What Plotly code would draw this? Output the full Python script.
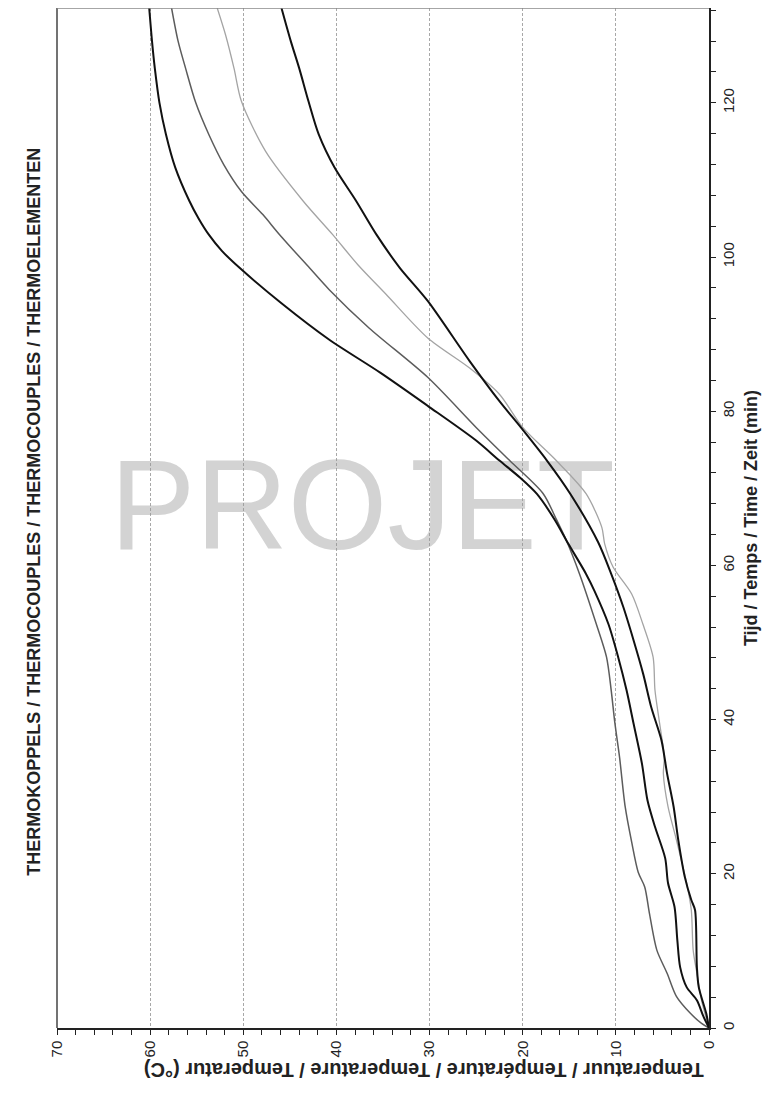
import plotly.graph_objects as go

# rotated scan: temperature runs right->left, time runs bottom->top
t_k1 = [0, 1.5, 3.6, 5.3, 7.9, 11.4, 15.7, 18.8, 22.0, 26.1, 29.5, 34.3, 39.5, 43.8, 48.1, 52.4,
        56.7, 58.9, 62.8, 66.0, 69.3, 71.4, 73.6, 76.2, 80.7, 85.0, 89.3, 94.0, 98.6, 100.8, 102.9,
        105.0, 107.3, 111.6, 115.9, 120.0, 124.5, 128.0, 132.3]
temp_k1 = [0, 0.6, 1.3, 2.4, 3.1, 3.4, 3.7, 4.4, 4.7, 5.8, 6.6, 7.2, 8.1, 8.85, 9.75, 10.8,
           12.3, 13.2, 15.1, 16.6, 18.5, 20.3, 22.5, 25.0, 30.2, 35.3, 40.8, 45.9, 50.4, 52.3, 53.7,
           54.8, 55.8, 57.3, 58.3, 59.0, 59.5, 59.8, 60.1]

t_g2 = [0, 0.6, 1.9, 4.1, 7.1, 10.1, 14.9, 18.3, 20.2, 24.1, 28.7, 35.1, 39.5, 43.8, 48.1, 52.4,
        58.9, 63.2, 66.0, 69.3, 73.6, 77.9, 84.4, 90.8, 95.8, 98.6, 102.9, 105.5, 108.5, 112.0,
        115.9, 120.0, 124.5, 128.0, 132.3]
temp_g2 = [0, 0.8, 2.0, 3.5, 4.5, 5.6, 6.4, 6.9, 7.6, 8.3, 9.0, 9.6, 10.1, 10.5, 11.0, 12.1,
           13.9, 15.3, 16.4, 17.8, 21.4, 25.0, 30.2, 36.5, 40.8, 42.9, 46.1, 47.9, 50.2, 52.1,
           53.7, 55.1, 56.2, 57.0, 57.7]

t_l3 = [0, 3.6, 7.1, 10.1, 15.3, 18.8, 24.4, 28.7, 33.0, 35.1, 39.5, 43.8, 48.1, 52.4, 56.3,
        59.8, 62.8, 64.9, 69.3, 73.6, 77.9, 82.2, 85.6, 89.5, 95.2, 99.0, 102.9, 107.3, 113.7,
        120.2, 124.5, 128.8, 132.3]
temp_l3 = [0, 0.8, 1.3, 1.7, 1.9, 2.4, 3.5, 4.4, 4.9, 4.8, 5.3, 5.8, 6.0, 7.1, 8.3,
           10.3, 11.2, 11.5, 13.2, 16.4, 20.0, 22.5, 25.7, 30.2, 34.7, 37.7, 40.4, 43.6, 47.6,
           50.2, 51.0, 51.9, 52.8]

t_k4 = [0, 1.9, 5.3, 7.9, 15.3, 16.6, 19.6, 24.4, 28.7, 33.0, 37.3, 41.6, 45.9, 50.3, 54.6,
        58.9, 63.0, 69.3, 73.6, 77.9, 81.3, 86.5, 94.3, 98.6, 102.9, 107.3, 111.6, 115.9,
        120.2, 124.5, 128.0, 132.3]
temp_k4 = [0, 0.3, 1.1, 1.3, 1.5, 1.9, 2.6, 3.3, 3.8, 4.5, 5.1, 6.2, 7.06, 8.1, 9.2,
           10.5, 11.9, 14.9, 17.4, 20.2, 22.5, 25.7, 30.2, 33.2, 35.7, 37.9, 40.2, 41.9,
           43.0, 44.0, 44.9, 45.9]

temp_ticks = [0, 10, 20, 30, 40, 50, 60, 70]
time_ticks = [0, 20, 40, 60, 80, 100, 120]

FONT = "Liberation Sans, Arial, sans-serif"

fig = go.Figure()

# watermark, drawn first so the curves sit on top of it
fig.add_trace(go.Scatter(
    x=[37.2], y=[66.3], mode="text", text=["PROJET"],
    textfont=dict(family=FONT, size=128, color="rgba(150,150,150,0.42)"),
    hoverinfo="skip", showlegend=False))

smooth = dict(shape="spline", smoothing=0.8)
fig.add_trace(go.Scatter(x=temp_l3, y=t_l3, mode="lines", line=dict(color="#a4a4a4", width=1.3, **smooth), showlegend=False))
fig.add_trace(go.Scatter(x=temp_g2, y=t_g2, mode="lines", line=dict(color="#5c5c5c", width=1.5, **smooth), showlegend=False))
fig.add_trace(go.Scatter(x=temp_k4, y=t_k4, mode="lines", line=dict(color="#111111", width=2, **smooth), showlegend=False))
fig.add_trace(go.Scatter(x=temp_k1, y=t_k1, mode="lines", line=dict(color="#111111", width=2, **smooth), showlegend=False))

fig.update_xaxes(
    range=[70, 0], tickvals=temp_ticks, tickangle=-90,
    tickfont=dict(family=FONT, size=15, color="#222"),
    showline=True, linecolor="#222", linewidth=1.5, mirror=False,
    ticks="outside", ticklen=5, tickcolor="#222",
    minor=dict(dtick=2, ticks="outside", ticklen=5, tickcolor="#222", showgrid=False),
    showgrid=True, gridcolor="#a8a8a8", griddash="3px,2px", gridwidth=1,
    zeroline=False)

fig.update_yaxes(
    range=[0, 132.3], side="right", tickvals=time_ticks, tickangle=-90,
    tickfont=dict(family=FONT, size=15, color="#222"),
    showline=True, linecolor="#222", linewidth=1.5,
    ticks="outside", ticklen=5, tickcolor="#222",
    minor=dict(dtick=4, ticks="outside", ticklen=5, tickcolor="#222", showgrid=False),
    showgrid=False, zeroline=False)

# left and top frame
fig.add_shape(type="line", xref="paper", yref="paper", x0=0, x1=0, y0=0, y1=1,
              line=dict(color="#444", width=1.5))
fig.add_shape(type="line", xref="paper", yref="paper", x0=0, x1=1, y0=1, y1=1,
              line=dict(color="#888", width=1.5))

fig.add_annotation(
    text="<b>THERMOKOPPELS / THERMOCOUPLES / THERMOCOUPLES / THERMOELEMENTEN</b>",
    xref="paper", yref="paper", x=-0.054, y=0.506, textangle=-90, showarrow=False,
    font=dict(family=FONT, size=18, color="#222"))
fig.add_annotation(
    text="<b>Tijd / Temps / Time / Zeit (min)</b>",
    xref="paper", yref="paper", x=1.083, y=0.50, textangle=-90, showarrow=False,
    font=dict(family=FONT, size=18, color="#222"))
fig.add_annotation(
    text="<b>Temperatuur / Température / Temperature / Temperatur (°C)</b>",
    xref="paper", yref="paper", x=0.562, y=-0.054, textangle=180, showarrow=False,
    font=dict(family=FONT, size=20, color="#222"))

# the page body has an 8px margin, so the figure is sized to fit inside it
fig.update_layout(
    width=767, height=1091,
    margin=dict(l=49, r=66, t=0, b=71),
    paper_bgcolor="white", plot_bgcolor="white",
    showlegend=False)

fig.write_html("out.html")
